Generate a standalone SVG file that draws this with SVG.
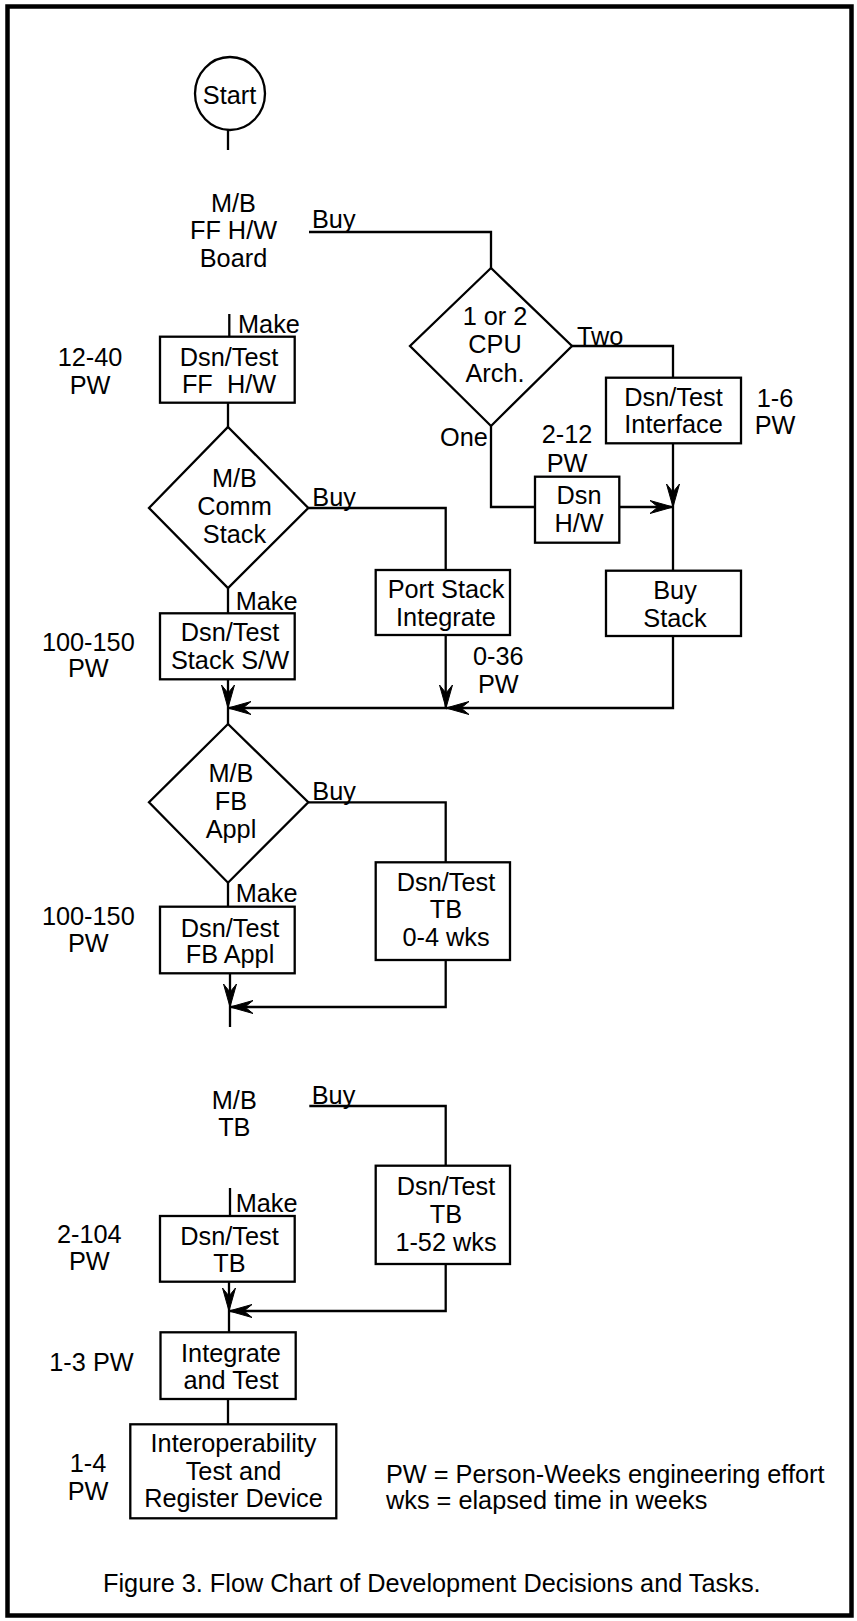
<svg xmlns="http://www.w3.org/2000/svg" xmlns:xlink="http://www.w3.org/1999/xlink" width="857" height="1621" viewBox="0 0 857 1621">
<style>
  .shape { fill: #fff; stroke: #000; stroke-width: 2.3; }
  .line { fill: none; stroke: #000; stroke-width: 2.3; }
  text { font-family: "Liberation Sans", Arial, sans-serif; font-size: 25.3px; fill: #000; }
  .c { text-anchor: middle; }
  .pre { white-space: pre; }
</style>
<defs>
  <path id="ah" d="M0,0 L-23,-6.5 L-15,0 L-23,6.5 Z" fill="#000" stroke="#000" stroke-width="1" stroke-linejoin="miter"/>
</defs>
<rect x="0" y="0" width="857" height="1621" fill="#fff"/>
<rect id="frame" x="7.5" y="6.5" width="844" height="1609" fill="none" stroke="#000" stroke-width="4.5"/>

<g id="connectors">
  <path class="line" d="M228,130 V150"/>
  <path class="line" d="M309,232 H491 V268"/>
  <path class="line" d="M572,346 H673 V378"/>
  <path class="line" d="M673,443 V571"/>
  <path class="line" d="M491,426 V507 H535"/>
  <path class="line" d="M619,507 H673"/>
  <path class="line" d="M673,636 V708 H446"/>
  <path class="line" d="M229.3,314 V337"/>
  <path class="line" d="M228,403 V427"/>
  <path class="line" d="M308.3,508 H445.7 V570"/>
  <path class="line" d="M445.7,635 V708 H228"/>
  <path class="line" d="M228,588 V613"/>
  <path class="line" d="M228,679 V724"/>
  <path class="line" d="M308.3,802.3 H445.7 V862"/>
  <path class="line" d="M445.7,960 V1007 H230"/>
  <path class="line" d="M228,883 V907"/>
  <path class="line" d="M230,973 V1027"/>
  <path class="line" d="M309.3,1106 H445.7 V1166"/>
  <path class="line" d="M445.7,1264 V1311 H229"/>
  <path class="line" d="M230,1188 V1216"/>
  <path class="line" d="M229,1282 V1332"/>
  <path class="line" d="M228,1399 V1424"/>
  <use xlink:href="#ah" transform="translate(673,507) rotate(90)"/>
  <use xlink:href="#ah" transform="translate(673,507)"/>
  <use xlink:href="#ah" transform="translate(446,708) rotate(180)"/>
  <use xlink:href="#ah" transform="translate(446,708) rotate(90)"/>
  <use xlink:href="#ah" transform="translate(228,708) rotate(90)"/>
  <use xlink:href="#ah" transform="translate(228,708) rotate(180)"/>
  <use xlink:href="#ah" transform="translate(230,1007) rotate(90)"/>
  <use xlink:href="#ah" transform="translate(230,1007) rotate(180)"/>
  <use xlink:href="#ah" transform="translate(229,1311) rotate(90)"/>
  <use xlink:href="#ah" transform="translate(229,1311) rotate(180)"/>
  <text x="312" y="228">Buy</text>
  <text x="577" y="345">Two</text>
  <text x="440" y="446">One</text>
  <text x="238" y="332.7">Make</text>
  <text x="312.3" y="506">Buy</text>
  <text x="235.7" y="610">Make</text>
  <text x="312.3" y="800">Buy</text>
  <text x="235.7" y="901.7">Make</text>
  <text x="311.7" y="1104">Buy</text>
  <text x="235.7" y="1211.7">Make</text>
</g>

<g id="start">
  <ellipse class="shape" cx="230" cy="93.5" rx="35" ry="36.5"/>
  <text class="c" x="229.5" y="104">Start</text>
</g>

<g id="mb-ff-hw-board">
  <text class="c" x="233.5" y="211.7">M/B</text>
  <text class="c" x="233.5" y="239.3">FF H/W</text>
  <text class="c" x="233.5" y="266.7">Board</text>
</g>

<g id="cpu-arch">
  <polygon class="shape" points="491,268 572,346 491,426 410,346"/>
  <text class="c" x="495" y="325">1 or 2</text>
  <text class="c" x="495" y="353.3">CPU</text>
  <text class="c" x="495" y="381.7">Arch.</text>
</g>

<g id="dsn-test-interface">
  <rect class="shape" x="606" y="377.7" width="135" height="65.6"/>
  <text class="c" x="673.5" y="406">Dsn/Test</text>
  <text class="c" x="673.5" y="433.3">Interface</text>
  <text class="c" x="775" y="406.7">1-6</text>
  <text class="c" x="775" y="434">PW</text>
</g>

<g id="dsn-hw">
  <rect class="shape" x="535" y="476.7" width="84.3" height="66"/>
  <text class="c" x="579" y="504">Dsn</text>
  <text class="c" x="579" y="531.7">H/W</text>
  <text class="c" x="567" y="443.3">2-12</text>
  <text class="c" x="567" y="471.7">PW</text>
</g>

<g id="buy-stack">
  <rect class="shape" x="606" y="570.7" width="135" height="65.3"/>
  <text class="c" x="675" y="599">Buy</text>
  <text class="c" x="675" y="626.7">Stack</text>
</g>

<g id="dsn-test-ff-hw">
  <rect class="shape" x="160" y="336.7" width="134.7" height="66"/>
  <text class="c" x="229" y="366">Dsn/Test</text>
  <text class="c pre" x="229" y="393">FF  H/W</text>
  <text class="c" x="90" y="366">12-40</text>
  <text class="c" x="90" y="394">PW</text>
</g>

<g id="comm-stack">
  <polygon class="shape" points="228,427 308.3,508 228,588 149,508"/>
  <text class="c" x="234.5" y="487">M/B</text>
  <text class="c" x="234.5" y="515">Comm</text>
  <text class="c" x="234.5" y="543">Stack</text>
</g>

<g id="port-stack">
  <rect class="shape" x="375.7" y="570" width="134.3" height="65"/>
  <text class="c" x="446" y="597.7">Port Stack</text>
  <text class="c" x="446" y="625.7">Integrate</text>
  <text class="c" x="498.3" y="665">0-36</text>
  <text class="c" x="498.3" y="692.7">PW</text>
</g>

<g id="dsn-test-stack-sw">
  <rect class="shape" x="160" y="613.3" width="134.7" height="66"/>
  <text class="c" x="230" y="640.7">Dsn/Test</text>
  <text class="c" x="230" y="669">Stack S/W</text>
  <text class="c" x="88.3" y="650.7">100-150</text>
  <text class="c" x="88.3" y="677.3">PW</text>
</g>

<g id="fb-appl">
  <polygon class="shape" points="228,724 308.3,802.3 228,882.7 149,802.3"/>
  <text class="c" x="231" y="781.7">M/B</text>
  <text class="c" x="231" y="810">FB</text>
  <text class="c" x="231" y="838.3">Appl</text>
</g>

<g id="dsn-test-tb-0-4">
  <rect class="shape" x="375.7" y="862.3" width="134.3" height="97.7"/>
  <text class="c" x="446" y="890.7">Dsn/Test</text>
  <text class="c" x="446" y="918.3">TB</text>
  <text class="c" x="446" y="946">0-4 wks</text>
</g>

<g id="dsn-test-fb-appl">
  <rect class="shape" x="160" y="906.7" width="134.7" height="66.6"/>
  <text class="c" x="230" y="936.7">Dsn/Test</text>
  <text class="c" x="230" y="963.3">FB Appl</text>
  <text class="c" x="88.3" y="925">100-150</text>
  <text class="c" x="88.3" y="951.7">PW</text>
</g>

<g id="mb-tb">
  <text class="c" x="234.3" y="1109">M/B</text>
  <text class="c" x="234.3" y="1136">TB</text>
</g>

<g id="dsn-test-tb-1-52">
  <rect class="shape" x="375.7" y="1165.7" width="134.3" height="98.3"/>
  <text class="c" x="446" y="1195">Dsn/Test</text>
  <text class="c" x="446" y="1222.7">TB</text>
  <text class="c" x="446" y="1250.7">1-52 wks</text>
</g>

<g id="dsn-test-tb">
  <rect class="shape" x="160" y="1216" width="134.7" height="65.7"/>
  <text class="c" x="229.5" y="1245">Dsn/Test</text>
  <text class="c" x="229.5" y="1271.7">TB</text>
  <text class="c" x="89.3" y="1242.7">2-104</text>
  <text class="c" x="89.3" y="1270">PW</text>
</g>

<g id="integrate-test">
  <rect class="shape" x="160.5" y="1332.3" width="135.2" height="66.7"/>
  <text class="c" x="231" y="1361.7">Integrate</text>
  <text class="c" x="231" y="1389">and Test</text>
  <text x="49.3" y="1370.7">1-3 PW</text>
</g>

<g id="interop">
  <rect class="shape" x="130.3" y="1424.3" width="206" height="94"/>
  <text class="c" x="233.5" y="1451.7">Interoperability</text>
  <text class="c" x="233.5" y="1480">Test and</text>
  <text class="c" x="233.5" y="1507.3">Register Device</text>
  <text class="c" x="88" y="1472.3">1-4</text>
  <text class="c" x="88" y="1500">PW</text>
</g>

<g id="legend">
  <text x="386" y="1483.3">PW = Person-Weeks engineering effort</text>
  <text x="386" y="1509.3">wks = elapsed time in weeks</text>
</g>

<g id="caption">
  <text class="c" x="431.8" y="1591.7">Figure 3. Flow Chart of Development Decisions and Tasks.</text>
</g>
</svg>
